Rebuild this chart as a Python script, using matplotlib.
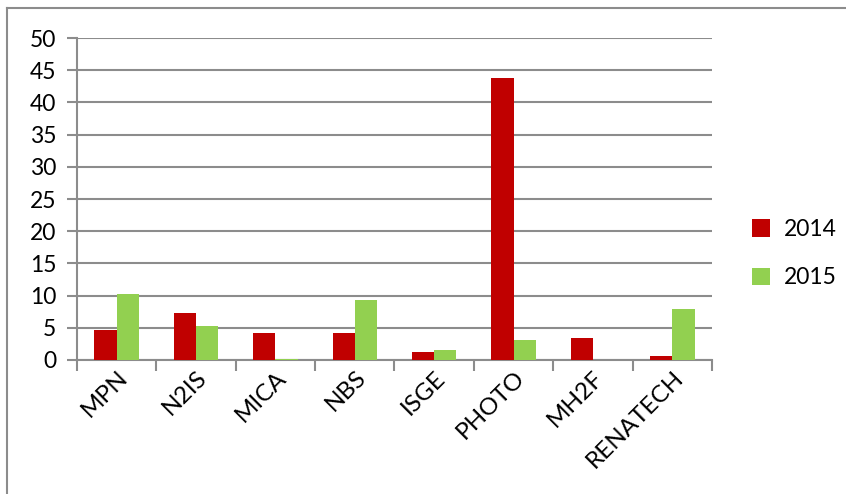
import numpy as np
import matplotlib.pyplot as plt
from matplotlib.lines import Line2D

plt.rcParams['font.family'] = ['Lato', 'DejaVu Sans']

categories = ["MPN", "N2IS", "MICA", "NBS", "ISGE", "PHOTO", "MH2F", "RENATECH"]
values_2014 = [4.7, 7.3, 4.2, 4.2, 1.3, 43.8, 3.4, 0.6]
values_2015 = [10.3, 5.3, 0.2, 9.3, 1.6, 3.1, 0.0, 7.9]
yticks = list(range(0, 51, 5))

RED = "#C00000"
GREEN = "#92D050"
GRID = "#8c8c8c"

fig = plt.figure(figsize=(8.46, 4.94), dpi=100)
ax = fig.add_axes([0.091, 0.2713, 0.7506, 0.6517])

x = np.arange(len(categories))
w = 0.28
ax.bar(x - w / 2, values_2014, w, color=RED, label="2014", zorder=3)
ax.bar(x + w / 2, values_2015, w, color=GREEN, label="2015", zorder=3)

ax.set_xlim(-0.5, len(categories) - 0.5)
ax.set_ylim(0, 50)
ax.set_yticks(yticks)
ax.grid(axis="y", color=GRID, linewidth=1.5, zorder=0)

# category ticks sit on the boundaries, labels in the middle
ax.set_xticks(np.arange(len(categories) + 1) - 0.5)
ax.set_xticklabels([])
ax.set_xticks(x, minor=True)
ax.set_xticklabels(categories, minor=True, rotation=45, ha="right",
                   rotation_mode="anchor", fontsize=17.5)
ax.tick_params(axis="x", which="minor", length=0, pad=5)
ax.tick_params(axis="x", which="major", length=8, width=1.5, color=GRID)
ax.tick_params(axis="y", length=7, width=1.5, color=GRID, labelsize=16.5, pad=8)

for side in ["top", "right"]:
    ax.spines[side].set_visible(False)
for side in ["left", "bottom"]:
    ax.spines[side].set_color(GRID)
    ax.spines[side].set_linewidth(1.5)

ax.legend(loc="center left", bbox_to_anchor=(1.03, 0.33), frameon=False,
          fontsize=16.5, handlelength=0.8, handleheight=0.8, labelspacing=1.2,
          handletextpad=0.6)

# frame of the original chart box
fig.add_artist(Line2D([7 / 846, 7 / 846], [0, 1 - 8 / 494], color=GRID, lw=1.5))
fig.add_artist(Line2D([7 / 846, 1], [1 - 8 / 494, 1 - 8 / 494], color=GRID, lw=1.5))

fig.savefig("out.png", dpi=100)
